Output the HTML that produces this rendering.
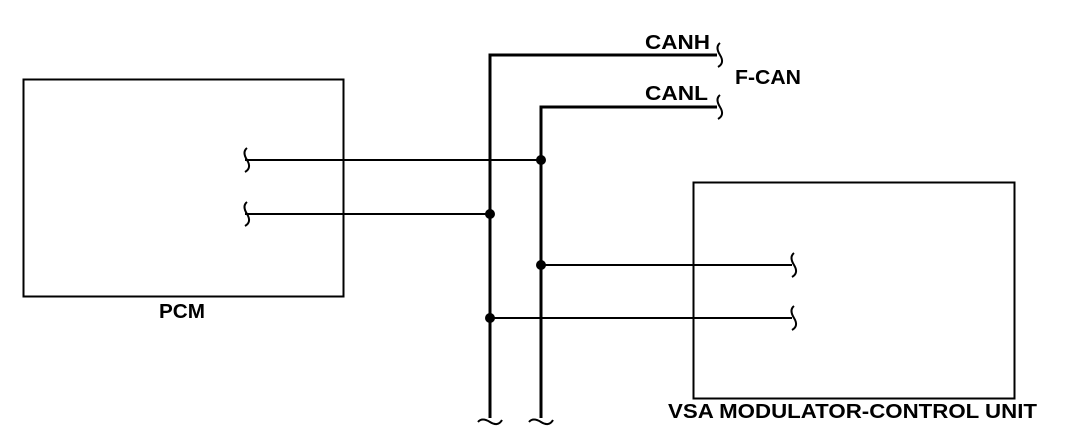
<!DOCTYPE html>
<html><head><style>
body{margin:0;background:#fff;}
svg{display:block}
text{font-family:"Liberation Sans",sans-serif;font-weight:bold;font-size:20px;fill:#000}
</style></head><body>
<svg width="1072" height="442" viewBox="0 0 1072 442">
<g fill="none" stroke="#000">
<rect x="23.5" y="79.5" width="320" height="217" stroke-width="2"/>
<rect x="693.5" y="182.5" width="321" height="216" stroke-width="2"/>
<polyline points="490,418 490,55 717,55" stroke-width="3"/>
<polyline points="541,418 541,107 717,107" stroke-width="3"/>
<line x1="245" y1="160" x2="541" y2="160" stroke-width="2"/>
<line x1="245" y1="214" x2="490" y2="214" stroke-width="2"/>
<line x1="541" y1="265" x2="792" y2="265" stroke-width="2"/>
<line x1="490" y1="318" x2="792" y2="318" stroke-width="2"/>
<g stroke-width="2">
<path d="M720,43 q-5,4 0,12 q5,8 -2,12"/>
<path d="M720,95 q-5,4 0,12 q5,8 -2,12"/>
<path d="M247,148 q-5,4 0,12 q5,8 -2,12"/>
<path d="M247,202 q-5,4 0,12 q5,8 -2,12"/>
<path d="M794,253 q-5,4 0,12 q5,8 -2,12"/>
<path d="M794,306 q-5,4 0,12 q5,8 -2,12"/>
<path d="M478,422 q4,-5 12,0 q8,5 12,-2"/>
<path d="M529,422 q4,-5 12,0 q8,5 12,-2"/>
</g>
</g>
<g fill="#000">
<circle cx="541" cy="160" r="5"/>
<circle cx="490" cy="214" r="5"/>
<circle cx="541" cy="265" r="5"/>
<circle cx="490" cy="318" r="5"/>
</g>
<text x="645" y="49" textLength="65" lengthAdjust="spacingAndGlyphs">CANH</text>
<text x="645" y="100" textLength="63" lengthAdjust="spacingAndGlyphs">CANL</text>
<text x="735" y="84" textLength="66" lengthAdjust="spacingAndGlyphs">F-CAN</text>
<text x="159" y="318" textLength="46" lengthAdjust="spacingAndGlyphs">PCM</text>
<text x="668" y="418" textLength="369" lengthAdjust="spacingAndGlyphs">VSA MODULATOR-CONTROL UNIT</text>
</svg>
</body></html>
